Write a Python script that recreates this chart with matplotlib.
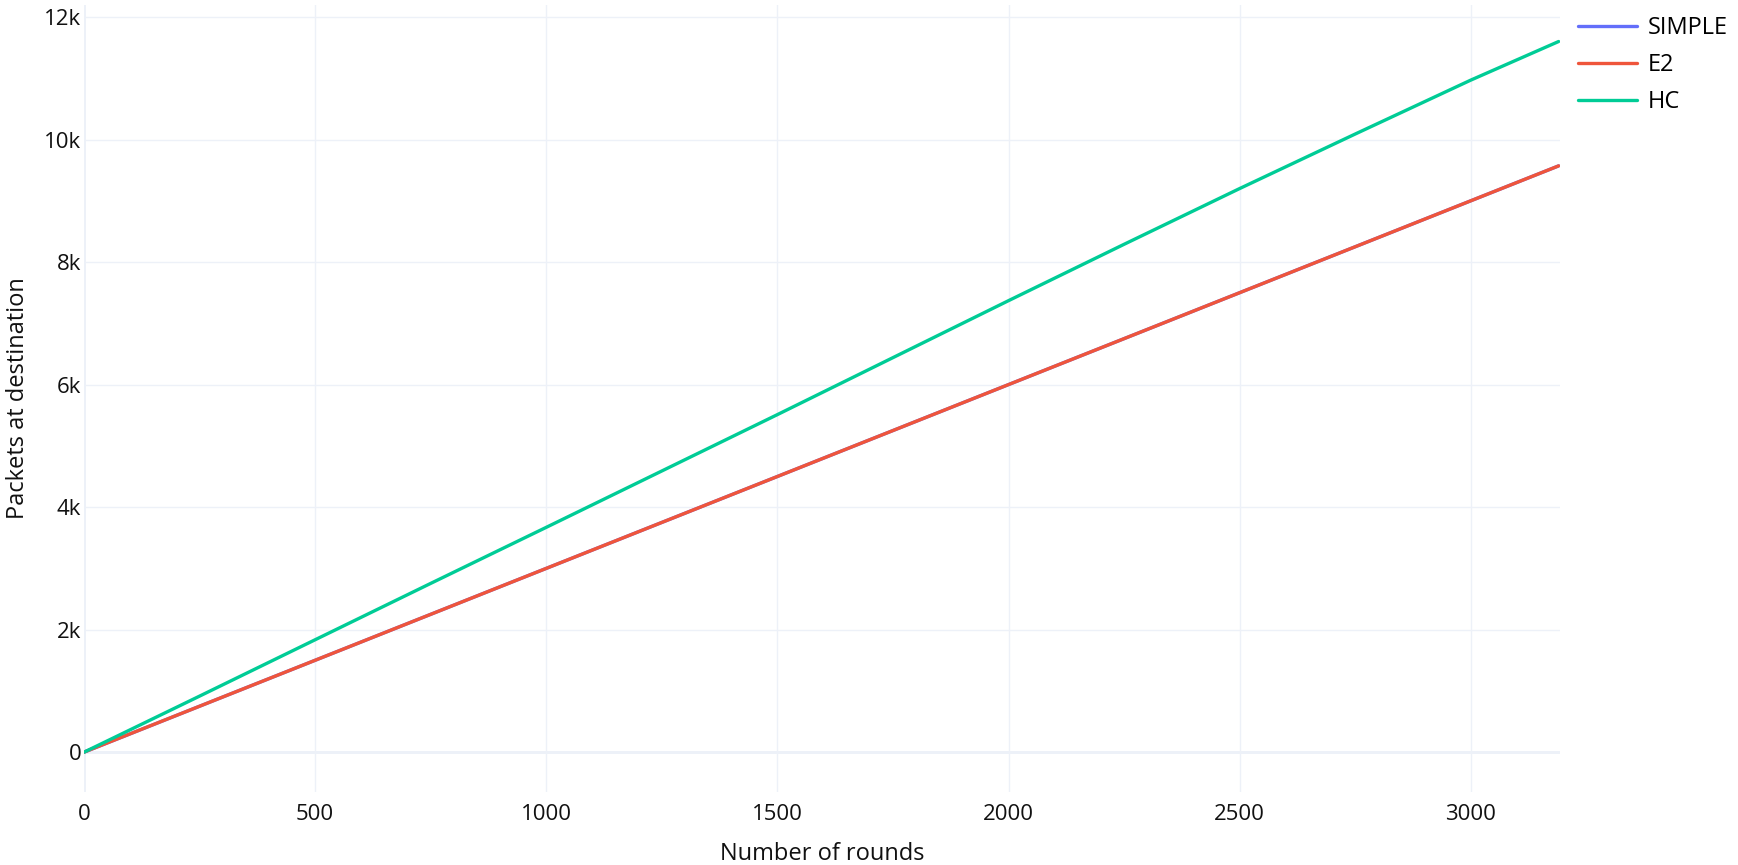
import matplotlib
matplotlib.use("Agg")
import matplotlib.pyplot as plt
from matplotlib.ticker import FuncFormatter

plt.rcParams['font.family'] = ['Open Sans', 'DejaVu Sans']

# data
rounds = [0, 250, 500, 750, 1000, 1250, 1500, 1750, 2000, 2250, 2500, 2750, 3000, 3190]
simple = [0, 750, 1500, 2250, 3000, 3750, 4500, 5250, 6000, 6750, 7500, 8250, 9000, 9570]
e2 = [0, 750, 1500, 2250, 3000, 3750, 4500, 5250, 6000, 6750, 7500, 8250, 9000, 9570]
hc = [0, 915, 1835, 2755, 3670, 4590, 5510, 6440, 7370, 8290, 9200, 10090, 10970, 11600]

W, H = 1738, 865
fig = plt.figure(figsize=(W / 100, H / 100), dpi=100)
ax = fig.add_axes([84 / W, 1 - 792 / H, (1560 - 84) / W, (792 - 5) / H])

grid_col = "#edf1f8"
ax.plot(rounds, simple, color="#636efa", lw=2.4, label="SIMPLE", solid_capstyle="round")
ax.plot(rounds, e2, color="#ef553b", lw=2.4, label="E2", solid_capstyle="round")
ax.plot(rounds, hc, color="#00cc96", lw=2.4, label="HC", solid_capstyle="round")

ax.set_xlim(0, 3193)
ax.set_ylim(-650, 12196)
ax.set_xticks([0, 500, 1000, 1500, 2000, 2500, 3000])
ax.set_yticks([0, 2000, 4000, 6000, 8000, 10000, 12000])
ax.yaxis.set_major_formatter(FuncFormatter(lambda v, p: "0" if v == 0 else f"{int(v / 1000)}k"))

ax.grid(True, color=grid_col, lw=1.0)
ax.set_axisbelow(True)
ax.axhline(0, color=grid_col, lw=2, zorder=0)
ax.axvline(0, color=grid_col, lw=2, zorder=0)
for s in ax.spines.values():
    s.set_visible(False)
ax.tick_params(length=0, labelsize=16, colors="#111111", pad=2)
ax.tick_params(axis="x", pad=9)

ax.set_xlabel("Number of rounds", fontsize=17, color="#111111", labelpad=12)
ax.set_ylabel("Packets at destination", fontsize=17, color="#111111", labelpad=10)

fig.legend(loc="upper left", bbox_to_anchor=(1578 / W, 1 - 16 / H), frameon=False,
           fontsize=17, handlelength=2.5, handletextpad=0.45, labelspacing=0.55,
           borderpad=0, borderaxespad=0)

fig.savefig("out.png", dpi=100, facecolor="white")
